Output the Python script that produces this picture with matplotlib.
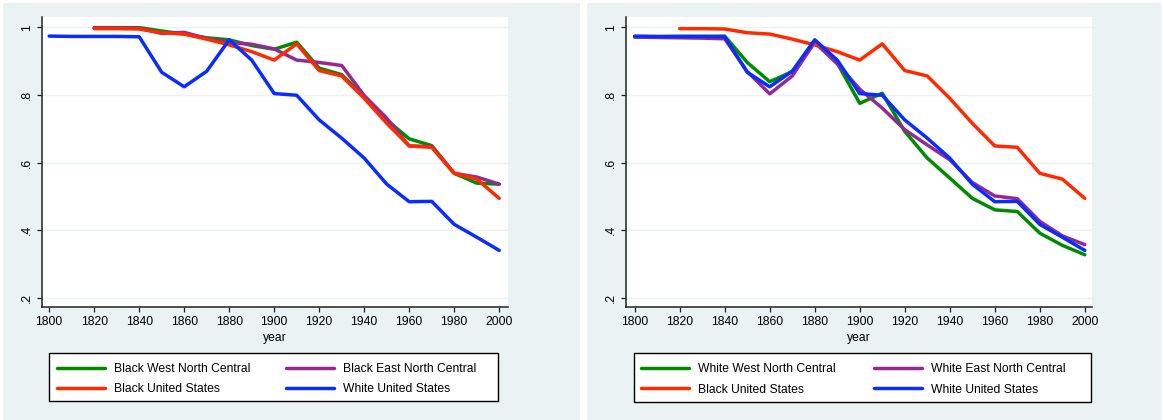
import matplotlib
matplotlib.use("Agg")
import matplotlib.pyplot as plt
from matplotlib.patches import Rectangle
import numpy as np

plt.rcParams['font.family'] = ['Liberation Sans', 'DejaVu Sans']

years = list(range(1800, 2001, 10))
nan = np.nan

black_us = [nan, nan, 0.996, 0.996, 0.995, 0.984, 0.980, 0.965, 0.948, 0.928, 0.903,
            0.951, 0.872, 0.856, 0.790, 0.716, 0.649, 0.645, 0.568, 0.551, 0.494]
white_us = [0.974, 0.973, 0.973, 0.973, 0.972, 0.867, 0.824, 0.870, 0.963, 0.903, 0.804,
            0.799, 0.726, 0.672, 0.613, 0.536, 0.484, 0.485, 0.417, 0.379, 0.340]
black_wnc = [nan, nan, 0.999, 0.999, 0.999, 0.989, 0.980, 0.969, 0.963, 0.946, 0.935,
             0.956, 0.879, 0.860, 0.795, 0.726, 0.670, 0.650, 0.568, 0.539, 0.536]
black_enc = [nan, nan, 0.998, 0.998, 0.997, 0.982, 0.985, 0.967, 0.955, 0.950, 0.936,
             0.903, 0.896, 0.887, 0.798, 0.731, 0.649, 0.647, 0.568, 0.557, 0.536]
white_wnc = [0.972, 0.972, 0.973, 0.973, 0.974, 0.896, 0.839, 0.869, 0.955, 0.894, 0.775,
             0.805, 0.692, 0.613, 0.554, 0.494, 0.460, 0.455, 0.391, 0.355, 0.327]
white_enc = [0.971, 0.970, 0.969, 0.968, 0.966, 0.869, 0.803, 0.856, 0.956, 0.892, 0.817,
             0.761, 0.697, 0.652, 0.608, 0.541, 0.501, 0.493, 0.426, 0.383, 0.357]

xticks = list(range(1800, 2001, 20))
yticks = [0.2, 0.4, 0.6, 0.8, 1.0]
ytick_labels = ['.2', '.4', '.6', '.8', '1']

C_GREEN = '#008c00'
C_PURPLE = '#932a93'
C_RED = '#ff2a00'
C_BLUE = '#0a2dff'
BG = '#eaf2f3'

W, H = 1163, 420
fig = plt.figure(figsize=(W / 100, H / 100), dpi=100, facecolor='white')

def px_rect(x0, y0, x1, y1):
    # pixel coords with origin top-left -> figure fraction
    return (x0 / W, 1 - y1 / H, (x1 - x0) / W, (y1 - y0) / H)

# panel backgrounds
for (x0, x1) in [(3, 580), (587, 1161)]:
    l, b, w, h = px_rect(x0, 3, x1, 420)
    fig.patches.append(Rectangle((l, b), w, h, transform=fig.transFigure,
                                 facecolor=BG, edgecolor='none', zorder=-5))

FS = 8.7

panels = [
    dict(ax_px=(42, 17, 508, 307), xlim=(1796.8, 2003.9),
         series=[(black_wnc, C_GREEN, 'Black West North Central'),
                 (black_enc, C_PURPLE, 'Black East North Central'),
                 (black_us, C_RED, 'Black United States'),
                 (white_us, C_BLUE, 'White United States')],
         leg_box=(49, 353, 498, 401), col1_x=57, col2_x=286),
    dict(ax_px=(625.7, 17, 1092, 307), xlim=(1796.0, 2003.2),
         series=[(white_wnc, C_GREEN, 'White West North Central'),
                 (white_enc, C_PURPLE, 'White East North Central'),
                 (black_us, C_RED, 'Black United States'),
                 (white_us, C_BLUE, 'White United States')],
         leg_box=(634, 353, 1091, 402), col1_x=641, col2_x=874),
]

for p in panels:
    x0, y0, x1, y1 = p['ax_px']
    ax = fig.add_axes(px_rect(x0, y0, x1, y1))
    ax.set_zorder(1)
    ax.set_facecolor('white')
    handles = []
    for vals, col, lab in p['series']:
        h, = ax.plot(years, vals, color=col, lw=2.5, label=lab, solid_capstyle='round')
        handles.append(h)
    ax.set_xlim(*p['xlim'])
    ax.set_ylim(0.1725, 1.0305)
    ax.set_xticks(xticks)
    ax.set_xticklabels([str(t) for t in xticks], fontsize=FS)
    ax.set_yticks(yticks)
    ax.set_yticklabels(ytick_labels, fontsize=FS, rotation=90, va='center')
    ax.tick_params(axis='both', direction='out', length=3.5, width=0.9, color='#222222')
    ax.tick_params(axis='x', pad=3)
    ax.tick_params(axis='y', pad=3)
    ax.grid(axis='y', color=BG, lw=1.0, zorder=0)
    ax.set_axisbelow(True)
    for s in ['top', 'right']:
        ax.spines[s].set_visible(False)
    for s in ['left', 'bottom']:
        ax.spines[s].set_color('#222222')
        ax.spines[s].set_linewidth(1.1)
    # x label
    fig.text(((x0 + x1) / 2) / W, 1 - 337.7 / H, 'year', ha='center', va='center', fontsize=FS)
    # legend frame
    bx0, by0, bx1, by1 = p['leg_box']
    l, b, w, h = px_rect(bx0, by0, bx1, by1)
    fig.patches.append(Rectangle((l, b), w, h, transform=fig.transFigure,
                                 facecolor='white', edgecolor='black', lw=1.0, zorder=-1))
    yc = 1 - ((by0 + by1) / 2 + 2) / H
    for cols, cx in [((handles[0], handles[2]), p['col1_x']),
                     ((handles[1], handles[3]), p['col2_x'])]:
        leg = fig.legend(cols, [c.get_label() for c in cols], loc='center left',
                         bbox_to_anchor=(cx / W, yc), bbox_transform=fig.transFigure,
                         frameon=False, fontsize=FS, handlelength=48 / 12.08, handletextpad=0.75,
                         labelspacing=0.67, borderpad=0, borderaxespad=0)
        leg.set_zorder(3)

fig.savefig('out.png', dpi=100, facecolor='white')
